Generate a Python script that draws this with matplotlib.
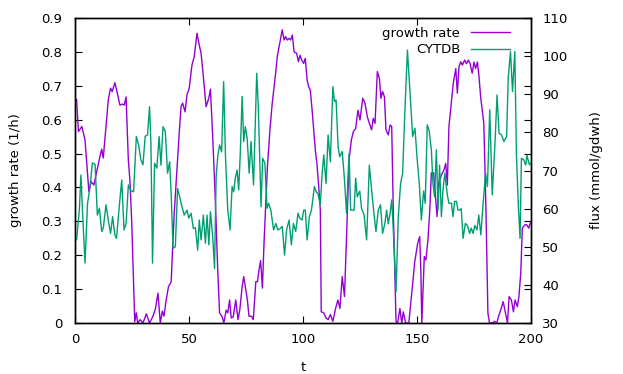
import matplotlib
matplotlib.use("Agg")
import matplotlib.pyplot as plt

# growth rate (left axis): (t, value)
growth_pts = [
    (0, 0.658), (0.7, 0.66), (1.5, 0.565), (3, 0.58), (4.4, 0.54), (6.1, 0.387),
    (7.1, 0.417), (8.3, 0.407), (9.4, 0.443), (10.9, 0.49), (11.7, 0.513), (12.4, 0.487),
    (13.6, 0.58), (14.6, 0.658), (15.6, 0.693), (16.3, 0.683), (17.5, 0.709), (18.5, 0.68),
    (19.7, 0.643), (20.9, 0.646), (21.6, 0.643), (22.4, 0.667), (23.4, 0.48), (24.1, 0.42),
    (24.9, 0.295), (26.2, 0.004), (26.9, 0.03), (27.5, 0.0), (28.6, 0.01), (29.8, 0.0),
    (31.3, 0.027), (32.7, 0.0), (34.2, 0.02), (35.2, 0.04), (36.4, 0.088), (37.4, 0.0),
    (38.3, 0.035), (39.0, 0.02), (40.0, 0.068), (41.0, 0.107), (42.2, 0.122), (42.9, 0.236),
    (43.6, 0.333), (44.7, 0.451), (45.8, 0.57), (46.5, 0.638), (47.2, 0.649), (48.3, 0.623),
    (49.1, 0.673), (50.1, 0.693), (51.3, 0.761), (52.3, 0.786), (53.5, 0.855), (54.5, 0.82),
    (55.3, 0.796), (56.3, 0.727), (57.5, 0.638), (58.7, 0.664), (59.4, 0.69), (60.4, 0.55),
    (61.6, 0.354), (62.6, 0.156), (63.4, 0.03), (64.5, 0.019), (65.3, 0.0), (66.3, 0.038),
    (67.0, 0.03), (67.8, 0.068), (68.5, 0.015), (69.4, 0.018), (70.5, 0.068), (71.5, 0.01),
    (72.3, 0.04), (73.3, 0.107), (74.0, 0.137), (74.9, 0.097), (75.6, 0.068), (76.3, 0.02),
    (77.4, 0.02), (78.2, 0.01), (79.3, 0.122), (80.0, 0.122), (80.7, 0.156), (81.4, 0.184),
    (82.2, 0.103), (82.9, 0.236), (83.6, 0.343), (84.4, 0.461), (85.5, 0.57), (86.5, 0.648),
    (87.3, 0.697), (88.0, 0.737), (88.7, 0.786), (89.9, 0.83), (90.9, 0.865), (91.7, 0.835),
    (92.4, 0.845), (93.1, 0.835), (93.9, 0.84), (94.6, 0.835), (95.3, 0.85), (96.1, 0.8),
    (97.2, 0.796), (98.0, 0.771), (98.7, 0.79), (99.4, 0.776), (100.3, 0.766), (101.0, 0.781),
    (101.8, 0.717), (102.5, 0.697), (103.2, 0.687), (104.0, 0.628), (104.7, 0.57),
    (105.4, 0.51), (106.1, 0.471), (106.9, 0.402), (107.6, 0.333), (108.0, 0.033),
    (109.1, 0.03), (110.1, 0.015), (111.0, 0.01), (112.0, 0.025), (113.1, 0.005),
    (114.3, 0.043), (115.3, 0.068), (116.2, 0.043), (117.2, 0.137), (118.2, 0.078),
    (119.1, 0.255), (120.2, 0.481), (121.2, 0.54), (122.1, 0.565), (123.1, 0.574),
    (124.1, 0.628), (125.0, 0.599), (126.2, 0.663), (127.2, 0.648), (128.2, 0.609),
    (129.1, 0.589), (130.1, 0.57), (130.8, 0.604), (131.6, 0.589), (132.6, 0.742),
    (133.5, 0.722), (134.2, 0.663), (134.9, 0.683), (135.7, 0.668), (136.4, 0.57),
    (137.4, 0.555), (138.2, 0.584), (138.9, 0.58), (139.6, 0.333), (140.8, 0.005),
    (141.5, 0.0), (142.5, 0.043), (143.3, 0.0), (144.0, 0.033), (145.0, 0.0), (146.4, 0.0),
    (147.7, 0.088), (149.0, 0.18), (150.3, 0.235), (151.2, 0.255), (151.7, 0.15),
    (152.1, 0.0), (153.2, 0.196), (153.9, 0.186), (154.8, 0.245), (155.6, 0.333),
    (156.3, 0.443), (157.3, 0.443), (158.1, 0.373), (158.8, 0.314), (159.5, 0.412),
    (160.7, 0.437), (161.8, 0.451), (162.6, 0.471), (163.3, 0.407), (164.0, 0.579),
    (165.0, 0.648), (165.9, 0.707), (167.0, 0.751), (167.7, 0.678), (168.4, 0.756),
    (169.2, 0.771), (169.9, 0.761), (170.9, 0.776), (171.7, 0.765), (172.5, 0.776),
    (173.3, 0.765), (174.2, 0.737), (175.0, 0.77), (175.7, 0.751), (176.5, 0.77),
    (177.2, 0.727), (177.9, 0.668), (178.6, 0.628), (179.3, 0.589), (179.8, 0.461),
    (180.3, 0.314), (181.1, 0.029), (181.8, 0.0), (183.0, 0.0), (184.0, 0.005), (185.0, 0.0),
    (185.8, 0.02), (186.8, 0.04), (187.8, 0.063), (188.7, 0.033), (189.7, 0.0),
    (190.4, 0.078), (191.4, 0.068), (192.3, 0.033), (193.0, 0.068), (194.0, 0.048),
    (194.7, 0.078), (195.5, 0.146), (196.2, 0.28), (197.4, 0.29), (198.1, 0.29),
    (199.0, 0.28), (200.0, 0.3),
]

# CYTDB flux (right axis, mmol/gdwh)
cytdb_pts = [
    (0, 53), (0.7, 51.8), (1.9, 59.6), (2.6, 68.8), (3.4, 57.9), (4.4, 45.7), (5.5, 61.4),
    (6.3, 64.4), (6.9, 67.5), (7.6, 72), (8.8, 71.6), (9.8, 58.3), (10.7, 60.1), (11.7, 54),
    (12.4, 54.9), (13.6, 61), (14.6, 57), (15.6, 53.5), (16.5, 57.9), (17.5, 53),
    (18.2, 52.2), (19.4, 60.5), (20.5, 67.5), (21.5, 54.4), (22.4, 56.1), (23.4, 66.2),
    (24.4, 64.8), (25.7, 64.4), (26.9, 78.9), (27.9, 76.7), (28.9, 72.8), (29.8, 71.5),
    (30.8, 79), (31.8, 79.3), (32.7, 86.7), (33.3, 77.1), (34.0, 45.7), (34.9, 71.9),
    (35.9, 70.6), (36.9, 78.9), (37.7, 71.4), (38.6, 81.5), (39.6, 80.2), (40.6, 69.3),
    (41.5, 72.3), (42.2, 63.6), (43.0, 49.6), (44.0, 50), (45.0, 65.3), (45.9, 63.1),
    (46.9, 60.5), (47.9, 58.3), (49.1, 59.6), (49.9, 57.5), (50.9, 58.8), (51.9, 54.8),
    (52.8, 55), (53.8, 49.1), (54.5, 57), (55.3, 51.8), (56.3, 58.3), (57.2, 50.9),
    (57.9, 58.3), (58.7, 50.5), (59.4, 59.2), (60.4, 52.6), (61.2, 44.3), (61.9, 68.4),
    (62.6, 73.6), (63.4, 76.7), (64.3, 74.9), (65.2, 93.3), (66.0, 73.6), (67.0, 59.6),
    (68.0, 54.4), (68.9, 65.8), (69.6, 64.4), (70.3, 68), (71.1, 70.1), (71.8, 64.9),
    (72.5, 74.5), (73.3, 89.4), (74.0, 77.6), (74.7, 81.5), (75.5, 78.5), (76.4, 69.3),
    (77.2, 77.6), (78.3, 66.2), (79.7, 95.5), (80.4, 86.7), (81.6, 60.5), (82.3, 73.2),
    (83.3, 71.9), (84.2, 60.1), (84.9, 61.4), (85.9, 59.6), (87.1, 54.4), (88.1, 56.1),
    (89.0, 54.4), (90.0, 54.8), (90.9, 55.3), (91.9, 47.8), (92.8, 54.4), (93.9, 57),
    (94.9, 50.5), (95.8, 56.1), (96.8, 54), (97.8, 58.8), (98.6, 57.5), (99.6, 57),
    (100.3, 59.6), (101.0, 59.6), (101.8, 51.8), (102.8, 57.9), (103.7, 59.6),
    (105.0, 65.8), (105.8, 64.4), (106.6, 63.8), (107.6, 61), (108.3, 68.4), (109.1, 74.1),
    (110.1, 66.6), (111.0, 79.3), (112.0, 72.3), (113.1, 92), (113.8, 88.1), (114.5, 88.5),
    (115.4, 76.2), (116.1, 73.6), (117.2, 75), (118.2, 67.5), (119.1, 58.8), (120.2, 74.5),
    (120.9, 59.6), (121.6, 59.6), (122.4, 59.6), (123.1, 68), (123.8, 63.1), (124.9, 64.6),
    (125.7, 60), (126.8, 58.3), (127.9, 51.8), (129.1, 71.4), (130.1, 64.9), (131.1, 58.8),
    (132.0, 54), (133.0, 59.6), (134.0, 61), (134.9, 53.5), (135.9, 56.1), (136.7, 59.6),
    (137.4, 56), (138.2, 58.8), (138.9, 62.3), (139.6, 54.4), (140.8, 38.2), (141.8, 57.9),
    (142.8, 66.6), (143.7, 69.3), (144.7, 85.9), (145.8, 101.6), (146.5, 94.6),
    (147.4, 85.9), (148.1, 78.9), (149.1, 81.1), (150.1, 72.8), (151.0, 66.6), (151.9, 57),
    (152.9, 64.6), (153.6, 61.4), (154.5, 82), (155.3, 80.5), (156.3, 75.4), (157.0, 66.6),
    (157.7, 63.1), (158.5, 75.4), (159.2, 59.6), (159.9, 71.4), (160.7, 57.9),
    (161.4, 64.9), (162.2, 69.3), (163.3, 63.6), (164.0, 61.4), (165.1, 61.4),
    (165.8, 57.9), (166.5, 61.9), (167.3, 61.9), (168.0, 59.6), (168.7, 59.6), (169.4, 60.0),
    (170.2, 52.2), (171.2, 56.1), (172.1, 55.6), (173.1, 53.5), (173.8, 54.9),
    (174.6, 53.5), (175.4, 55.6), (176.3, 54.4), (177.1, 58.3), (178.0, 53.1),
    (179.0, 61.4), (180.1, 69.3), (180.9, 65.8), (181.9, 85.9), (183.0, 63.6),
    (184.2, 77.1), (185.1, 89.8), (186.0, 79.8), (187.1, 79.3), (188.1, 77.6),
    (189.3, 78.9), (190.0, 94.2), (191.0, 101.2), (191.9, 90.7), (192.9, 101.2),
    (193.6, 74.5), (194.4, 61.4), (195.2, 52.2), (195.8, 73.2), (196.8, 72.8),
    (197.7, 71.4), (198.2, 74), (198.7, 72.8), (199.3, 71.5), (200.0, 72),
]

gr_t, growth = zip(*growth_pts)
cy_t, cytdb = zip(*cytdb_pts)

purple = "#9400d3"
teal = "#009e73"
fs = 9.5

fig = plt.figure(figsize=(6.23, 3.74), dpi=100)
ax = fig.add_axes([75 / 623, 1 - 323 / 374, 456 / 623, 305 / 374])
ax2 = ax.twinx()

l1, = ax.plot(gr_t, growth, color=purple, lw=1)
l2, = ax2.plot(cy_t, cytdb, color=teal, lw=1)

ax.set_xlim(0, 200)
ax.set_ylim(0, 0.9)
ax2.set_ylim(30, 110)
ax.set_xticks([0, 50, 100, 150, 200])
ax.set_yticks([i / 10 for i in range(10)])
ax.set_yticklabels(["0"] + [f"{i / 10:.1f}" for i in range(1, 10)])
ax2.set_yticks(range(30, 111, 10))

ax.tick_params(direction="in", top=True, right=True, length=5, width=0.8,
               labelsize=fs)
ax.tick_params(axis="x", pad=7)
ax.tick_params(axis="y", pad=9)
ax2.tick_params(direction="in", length=5, width=0.8, labelsize=fs, pad=8)

ax.set_xlabel("t", fontsize=fs, labelpad=11)
ax.set_ylabel("growth rate (1/h)", fontsize=fs, labelpad=14)
ax2.set_ylabel("flux (mmol/gdwh)", fontsize=fs, labelpad=16)

for a in (ax, ax2):
    for s in a.spines.values():
        s.set_linewidth(1)

ax2.legend([l1, l2], ["growth rate", "CYTDB"], loc="upper right", frameon=False,
           markerfirst=False, fontsize=fs, handlelength=3.0, borderaxespad=0,
           borderpad=0, labelspacing=0.3, handletextpad=0.8,
           bbox_to_anchor=(0.955, 0.972))

fig.savefig("out.png", dpi=100)
